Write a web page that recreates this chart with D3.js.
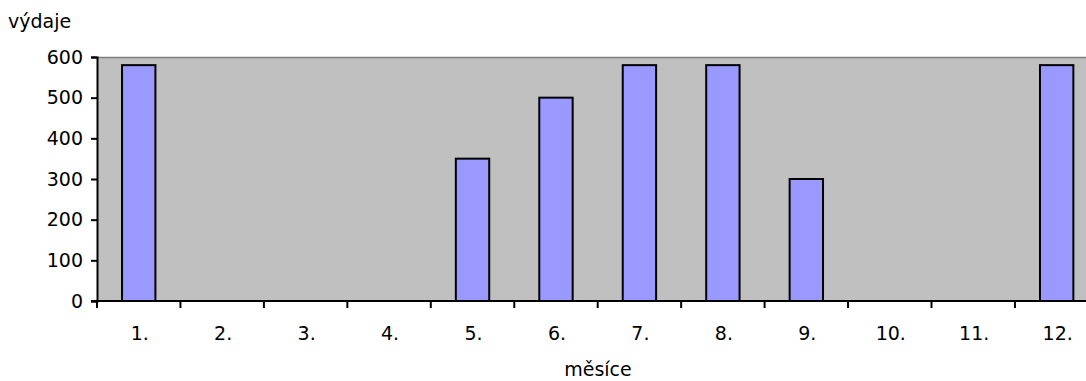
<!DOCTYPE html>
<html><head><meta charset="utf-8">
<script src="https://cdn.jsdelivr.net/npm/d3@7"></script>
<style>body{margin:0;background:#fff;overflow:hidden}svg{display:block}text{font-family:"DejaVu Sans",Verdana,sans-serif;fill:#000}</style>
</head><body>
<svg id="c" width="1086" height="381"></svg>
<script>
const categories = ["1.","2.","3.","4.","5.","6.","7.","8.","9.","10.","11.","12."];
const values = [580,0,0,0,350,500,580,580,300,0,0,580];
const yTicks = [0,100,200,300,400,500,600];
const yLabel = "výdaje";
const xLabel = "měsíce";

const svg = d3.select("#c");
const m = {l:97, r:97+12*83.45, t:57, b:301};
const x = d3.scaleBand().domain(categories).range([m.l, m.r]).paddingInner(0.6).paddingOuter(0.3);
const xb = d3.scaleBand().domain(categories).range([m.l, m.r]);
const y = d3.scaleLinear().domain([0,600]).range([m.b, m.t]);

svg.append("rect").attr("x",m.l).attr("y",m.t).attr("width",m.r-m.l).attr("height",m.b-m.t).attr("fill","#C0C0C0");
svg.append("line").attr("x1",m.l).attr("x2",m.r).attr("y1",m.t+0.5).attr("y2",m.t+0.5).attr("stroke","#808080").attr("stroke-width",1.5);

svg.selectAll("rect.bar").data(categories.map((c,i)=>({c,v:values[i]})).filter(d=>d.v>0))
  .enter().append("rect").attr("class","bar")
  .attr("x",d=>x(d.c)).attr("width",x.bandwidth())
  .attr("y",d=>y(d.v)).attr("height",d=>y(0)-y(d.v))
  .attr("fill","#9999FF").attr("stroke","#000").attr("stroke-width",2);

// y axis
const ya = svg.append("g").attr("transform",`translate(${m.l},0)`)
  .call(d3.axisLeft(y).tickValues(yTicks).tickSize(6).tickPadding(8));
ya.select(".domain").attr("stroke","#000").attr("stroke-width",2);
ya.selectAll(".tick line").attr("stroke","#000").attr("stroke-width",2);
ya.selectAll("text").style("font-size","19px").attr("fill","#000");

// x axis
const xa = svg.append("g").attr("transform",`translate(0,${m.b})`);
xa.append("line").attr("x1",m.l-6).attr("x2",m.r).attr("y1",0).attr("y2",0).attr("stroke","#000").attr("stroke-width",2);
const bounds = d3.range(categories.length+1).map(i=>m.l+i*xb.step());
xa.selectAll("line.t").data(bounds).enter().append("line").attr("class","t")
  .attr("x1",d=>d).attr("x2",d=>d).attr("y1",0).attr("y2",7).attr("stroke","#000").attr("stroke-width",2);
xa.selectAll("text.l").data(categories).enter().append("text").attr("class","l")
  .attr("x",d=>xb(d)+xb.bandwidth()/2+1).attr("y",39).attr("text-anchor","middle")
  .style("font-size","19px").text(d=>d);

svg.append("text").attr("x",8).attr("y",28).style("font-size","19px").text(yLabel);
svg.append("text").attr("x",598).attr("y",376).attr("text-anchor","middle").style("font-size","19px").text(xLabel);
</script>
</body></html>
